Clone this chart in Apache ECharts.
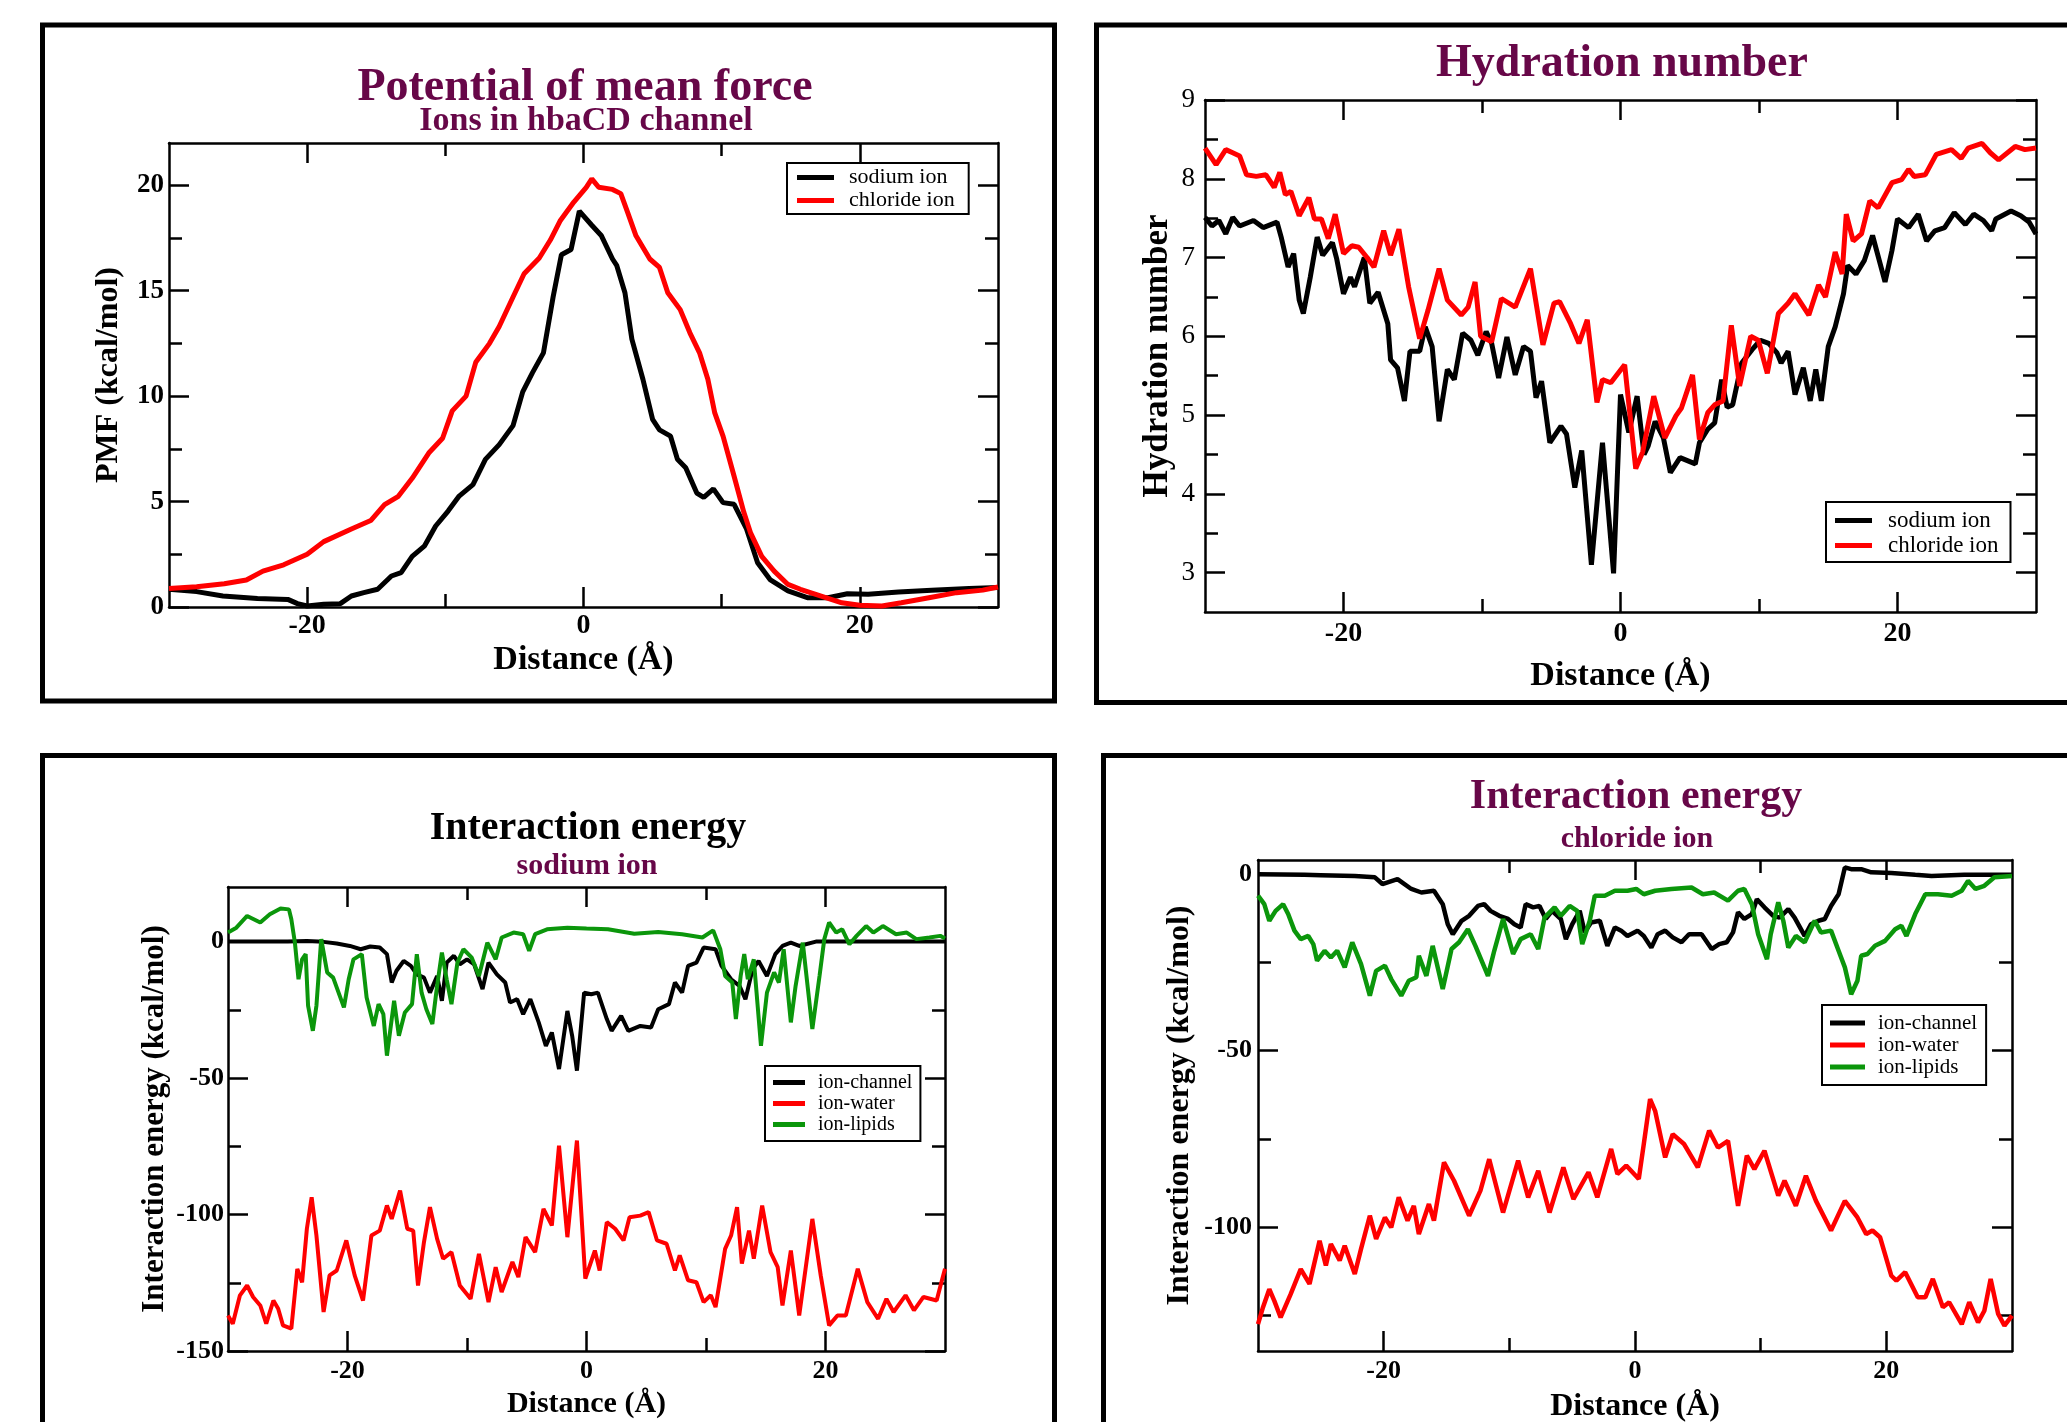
<!DOCTYPE html>
<html>
<head>
<meta charset="utf-8">
<title>PMF, hydration and interaction energy</title>
<script src="https://cdn.jsdelivr.net/npm/echarts@6/dist/echarts.min.js"></script>
<style>
  html, body { margin: 0; padding: 0; background: #fff; }
  #chart { width: 2067px; height: 1422px; }
</style>
</head>
<body>
<div id="chart"></div>
<script>
// ---- data: [distance (Å), value] ----
const pmfNa = [[-30,0.84],[-28,0.73],[-26.1,0.52],[-23.6,0.4],[-21.4,0.36],[-20.7,0.16],[-20,0.05],[-18.8,0.13],[-17.6,0.16],[-16.8,0.52],[-15.9,0.68],[-14.9,0.84],[-13.9,1.47],[-13.2,1.63],[-12.4,2.4],[-11.5,2.9],[-10.7,3.84],[-9.8,4.55],[-9,5.26],[-8,5.8],[-7.1,7],[-6.1,7.7],[-5.1,8.6],[-4.4,10.2],[-3.7,11.1],[-2.9,12.05],[-2.2,14.7],[-1.6,16.7],[-0.9,16.95],[-0.3,18.77],[0.6,18.1],[1.3,17.6],[2.1,16.5],[2.4,16.2],[3,14.9],[3.5,12.7],[4.3,10.8],[5,8.9],[5.5,8.4],[6.3,8.1],[6.8,7],[7.4,6.6],[8.2,5.4],[8.7,5.2],[9.4,5.6],[10.1,4.95],[10.9,4.87],[11.8,3.7],[12.6,2.1],[13.5,1.3],[14.8,0.76],[16.2,0.44],[17.7,0.44],[19.1,0.63],[20.6,0.6],[22.8,0.71],[25.2,0.79],[27.9,0.88],[30,0.92]];
const pmfCl = [[-30,0.88],[-28,0.96],[-26,1.1],[-24.4,1.28],[-23.2,1.7],[-21.7,2],[-20,2.5],[-18.8,3.1],[-16.8,3.7],[-15.4,4.1],[-14.4,4.85],[-13.4,5.25],[-12.4,6.1],[-11.2,7.3],[-10.2,8],[-9.5,9.3],[-8.5,10],[-7.8,11.6],[-6.8,12.5],[-6.1,13.3],[-5.1,14.7],[-4.3,15.8],[-3.2,16.55],[-2.4,17.4],[-1.7,18.3],[-0.7,19.2],[0.2,19.9],[0.6,20.3],[1.1,19.9],[2.1,19.8],[2.7,19.6],[3.2,18.7],[3.8,17.6],[4.8,16.5],[5.5,16.1],[6.1,14.9],[7,14.1],[7.7,13],[8.4,12.05],[9,10.8],[9.5,9.2],[10.1,8.1],[10.9,6.2],[11.6,4.5],[12.1,3.5],[12.9,2.4],[13.8,1.7],[14.8,1.07],[15.7,0.84],[17.2,0.52],[18.7,0.2],[20,0.08],[21.6,0.05],[23,0.2],[25,0.44],[27,0.68],[28.9,0.8],[30,0.95]];

const hydNa = [[-30,7.51],[-29.5,7.4],[-29,7.47],[-28.5,7.3],[-28,7.51],[-27.5,7.4],[-26.5,7.47],[-25.8,7.38],[-24.8,7.45],[-24.5,7.26],[-24,6.88],[-23.6,7.05],[-23.2,6.46],[-22.9,6.29],[-22.4,6.75],[-21.9,7.26],[-21.5,7.03],[-20.8,7.19],[-20.5,6.99],[-20,6.54],[-19.5,6.75],[-19.2,6.63],[-18.5,7],[-18.1,6.42],[-17.5,6.56],[-16.8,6.16],[-16.6,5.7],[-16.1,5.6],[-15.6,5.18],[-15.2,5.81],[-14.5,5.81],[-14.1,6.12],[-13.6,5.87],[-13.1,4.92],[-12.5,5.58],[-12,5.45],[-11.4,6.04],[-10.8,5.95],[-10.3,5.76],[-9.7,6.06],[-9.3,5.91],[-8.8,5.47],[-8.2,5.99],[-7.6,5.51],[-7,5.87],[-6.5,5.81],[-6.1,5.22],[-5.7,5.43],[-5.1,4.65],[-4.3,4.86],[-3.9,4.76],[-3.3,4.08],[-2.8,4.55],[-2.1,3.1],[-1.3,4.65],[-0.5,2.99],[0,5.26],[0.6,4.78],[1.2,5.24],[1.7,4.5],[2,4.61],[2.5,4.92],[3.1,4.71],[3.6,4.27],[4.3,4.46],[5.4,4.38],[5.7,4.65],[6.3,4.82],[6.8,4.9],[7.3,5.45],[7.7,5.1],[8.1,5.13],[8.75,5.66],[9.5,5.83],[10.1,5.95],[10.7,5.91],[11.3,5.79],[11.6,5.66],[12.1,5.81],[12.6,5.26],[13.2,5.6],[13.7,5.18],[14.1,5.58],[14.5,5.18],[15,5.87],[15.5,6.12],[16.1,6.54],[16.4,6.9],[17,6.79],[17.6,6.96],[18.2,7.28],[19.1,6.69],[19.6,7.09],[20,7.49],[20.8,7.38],[21.5,7.55],[22.1,7.21],[22.7,7.34],[23.4,7.38],[24.1,7.57],[24.9,7.42],[25.5,7.55],[26.2,7.47],[26.8,7.34],[27.1,7.49],[28.2,7.59],[28.9,7.53],[29.5,7.45],[30,7.3]];
const hydCl = [[-30,8.39],[-29.2,8.18],[-28.5,8.37],[-28,8.33],[-27.5,8.29],[-27,8.05],[-26.3,8.03],[-25.6,8.05],[-25,7.89],[-24.6,8.08],[-24.2,7.8],[-23.8,7.84],[-23.2,7.53],[-22.5,7.76],[-22.1,7.49],[-21.6,7.49],[-21.1,7.24],[-20.6,7.55],[-20,7.05],[-19.4,7.15],[-18.9,7.13],[-18.3,7],[-17.8,6.88],[-17.1,7.34],[-16.6,7.03],[-16,7.36],[-15.3,6.63],[-14.5,5.97],[-13.9,6.33],[-13.1,6.86],[-12.5,6.46],[-11.5,6.27],[-11,6.37],[-10.5,6.69],[-10.1,6],[-9.3,5.93],[-8.6,6.48],[-7.6,6.37],[-6.5,6.86],[-5.6,5.89],[-4.8,6.42],[-4.4,6.44],[-3.6,6.16],[-3,5.91],[-2.4,6.21],[-1.7,5.16],[-1.3,5.45],[-0.7,5.41],[0.3,5.64],[1.1,4.32],[1.6,4.53],[2.4,5.24],[3.2,4.71],[4,4.99],[4.4,5.09],[5.2,5.51],[5.7,4.69],[6.3,5.03],[6.8,5.13],[7.4,5.18],[8,6.14],[8.6,5.37],[9.4,6],[9.95,5.95],[10.6,5.53],[11.4,6.29],[12.1,6.42],[12.6,6.54],[13.6,6.27],[14.3,6.65],[14.8,6.5],[15.5,7.07],[16,6.79],[16.3,7.55],[16.8,7.21],[17.4,7.3],[18,7.72],[18.6,7.63],[19.6,7.95],[20.3,7.99],[20.8,8.12],[21.2,8.03],[22,8.05],[22.8,8.31],[23.9,8.37],[24.6,8.26],[25.1,8.39],[26.1,8.45],[26.7,8.33],[27.3,8.24],[28.5,8.41],[29.2,8.37],[30,8.39]];

const naChannel = [[-30,0],[-25,0],[-23.4,0.2],[-22,-0.1],[-20.9,-0.7],[-19.8,-1.6],[-18.9,-2.8],[-18.1,-1.8],[-17.3,-2.2],[-16.7,-4.6],[-16.3,-15],[-15.9,-10.7],[-15.3,-7.1],[-14.7,-8.9],[-14.2,-12],[-13.6,-13.2],[-13.1,-18.7],[-12.5,-12.6],[-12.1,-21.7],[-11.7,-7.7],[-11.1,-5.2],[-10.6,-8.3],[-10,-6.5],[-9.4,-8.3],[-8.7,-17.4],[-8.2,-7.7],[-7.5,-12],[-6.8,-15],[-6.4,-22.3],[-5.8,-21.1],[-5.3,-26.6],[-4.7,-21.1],[-4,-29.6],[-3.4,-38.2],[-2.9,-33.3],[-2.3,-46.7],[-1.6,-25.4],[-1.2,-34.5],[-0.8,-47.3],[-0.2,-18.7],[0.4,-19.3],[0.95,-18.7],[1.7,-28.4],[2.1,-32.7],[2.9,-27.2],[3.5,-32.7],[4.5,-30.9],[5.4,-31.5],[6,-24.8],[6.9,-22.9],[7.4,-15],[8,-18.7],[8.5,-8.9],[9.2,-7.7],[9.8,-2.2],[10.8,-2.8],[11.3,-8.9],[12.1,-13.8],[12.8,-16.2],[13.3,-21.1],[13.9,-10.1],[14.4,-7.1],[15.1,-12.6],[15.8,-4.6],[16.4,-1.6],[17.1,-0.4],[17.8,-1.6],[19.2,0],[30,0]];
const naWater = [[-30,-137],[-29.6,-140],[-29,-129.6],[-28.4,-126],[-27.9,-130.2],[-27.3,-133.3],[-26.8,-140],[-26.2,-131.5],[-25.8,-134.5],[-25.4,-140.6],[-24.7,-141.8],[-24.2,-119.9],[-23.8,-124.8],[-23.4,-105.2],[-23,-93.7],[-22.6,-107.7],[-22,-135.7],[-21.5,-122.3],[-20.9,-120.5],[-20.1,-109.5],[-19.4,-122.3],[-18.7,-131.5],[-18,-107.7],[-17.3,-105.9],[-16.7,-96.7],[-16.3,-101.6],[-15.6,-91.2],[-15,-105.2],[-14.5,-105.9],[-14.1,-126],[-13.6,-110.1],[-13.1,-97.3],[-12.5,-108.9],[-12,-116.2],[-11.3,-113.8],[-10.6,-126],[-9.7,-130.9],[-9,-114.4],[-8.2,-132.1],[-7.6,-119.3],[-7.1,-128.4],[-6.2,-117.4],[-5.7,-122.9],[-5.1,-108.3],[-4.3,-113.8],[-3.6,-97.9],[-2.9,-104],[-2.3,-74.8],[-1.6,-108.3],[-0.8,-72.9],[-0.1,-123.5],[0.7,-113.2],[1.1,-120.5],[1.7,-102.8],[2.4,-105.2],[3.1,-109.5],[3.6,-101],[4.5,-100.4],[5.2,-99.1],[5.9,-109.5],[6.7,-110.7],[7.4,-120.5],[7.8,-115],[8.5,-124.1],[9.2,-124.8],[9.8,-132.1],[10.4,-129.6],[10.8,-133.9],[11.6,-112.6],[12.1,-107.7],[12.6,-97.3],[13,-118],[13.6,-105.9],[14,-116.2],[14.7,-96.7],[15.4,-113.8],[16,-119.3],[16.4,-133.3],[17.1,-113.2],[17.8,-137],[18.9,-101.6],[19.6,-122.3],[20.3,-140.6],[21,-137],[21.7,-137],[22.7,-119.9],[23.5,-132.1],[24.4,-138.2],[25.1,-130.9],[25.7,-135.7],[26.7,-129.6],[27.4,-135.1],[28.2,-130.2],[29.3,-131.5],[29.7,-124.8],[30,-119.9]];
const naLipids = [[-30,3.3],[-29.3,5.1],[-28.4,9.4],[-27.3,7],[-26.5,10],[-25.6,12.1],[-24.9,11.8],[-24.7,8.2],[-24.4,-0.4],[-24.1,-13.8],[-23.8,-6.5],[-23.5,-4.6],[-23.3,-23.5],[-22.9,-32.7],[-22.6,-23.5],[-22.2,0.9],[-21.7,-11.3],[-21.2,-13.2],[-20.3,-24.1],[-19.9,-13.8],[-19.5,-6.5],[-18.8,-4.6],[-18.4,-20.5],[-17.8,-30.9],[-17.4,-22.9],[-17,-26.6],[-16.7,-41.8],[-16.1,-21.7],[-15.7,-34.5],[-15.2,-26],[-14.6,-22.9],[-14.2,-4.6],[-13.8,-18.7],[-13.4,-24.8],[-12.9,-30.2],[-12.5,-16.2],[-12.1,-4],[-11.7,-13.8],[-11.3,-22.9],[-10.8,-7.7],[-10.3,-2.8],[-9.6,-5.9],[-9,-12.6],[-8.3,-0.4],[-7.6,-6.5],[-7.1,1.5],[-6.1,3.3],[-5.3,2.7],[-4.8,-3.4],[-4.3,2.7],[-3.3,4.5],[-1.6,5.1],[0,4.8],[1.8,4.5],[4,2.9],[6,3.5],[8,2.7],[9.7,1.5],[10.6,4.1],[11.2,-2.8],[11.6,-12.6],[12.2,-15],[12.5,-28.4],[12.9,-12.6],[13.2,-4.6],[13.5,-13.8],[14,-6.5],[14.6,-38.2],[15.1,-18.7],[15.7,-11.3],[16.1,-15],[16.5,-2.8],[17.1,-29.6],[17.5,-16.2],[18.1,-0.4],[18.9,-32],[19.5,-12.6],[19.9,0.9],[20.3,7],[20.9,3.3],[21.4,4.5],[22,-1],[22.6,2.1],[23.4,5.7],[24,3.3],[24.8,5.7],[25.9,2.7],[26.8,3.3],[27.6,0.9],[28.7,1.5],[29.6,2.1],[30,1.1]];

const clChannel = [[-30,0],[-26.3,-0.2],[-25,-0.3],[-22.3,-0.5],[-20.7,-0.9],[-20.1,-2.8],[-18.9,-1.4],[-17.8,-4.2],[-17,-5.2],[-16,-4.7],[-15.3,-8.5],[-14.9,-14.2],[-14.5,-17],[-13.8,-13.2],[-13.2,-11.8],[-12.5,-9],[-12,-8.5],[-11.5,-10.4],[-10.8,-11.8],[-10.1,-12.7],[-9.6,-14.2],[-9.1,-15.1],[-8.7,-8.5],[-8.1,-9.4],[-7.6,-9],[-7.1,-12.7],[-6.6,-10.4],[-5.9,-12.7],[-5.5,-18.4],[-5,-14.2],[-4.4,-10.4],[-4,-16.5],[-3.5,-13.7],[-2.8,-13.2],[-2.2,-20.3],[-1.6,-15.1],[-1.1,-16],[-0.6,-17.5],[0.2,-16],[0.7,-17.5],[1.3,-20.8],[1.8,-17],[2.4,-16],[3,-17.9],[3.7,-19.3],[4.3,-17],[5.3,-17],[6.1,-21.2],[6.7,-19.8],[7.3,-19.3],[7.8,-16.5],[8.2,-10.8],[8.7,-12.7],[9.3,-11.3],[9.7,-7.1],[10.3,-9.4],[11,-11.8],[11.5,-12.3],[12.2,-9.9],[12.7,-12.3],[13.5,-17.5],[14,-14.2],[14.6,-13.2],[15.1,-12.7],[15.6,-9],[16.2,-5.7],[16.7,1.9],[17.2,1.4],[18,1.4],[18.8,0.5],[20.4,0.3],[22.3,-0.2],[23.6,-0.5],[26.2,-0.2],[30,-0.2]];
const clWater = [[-30,-127.4],[-29.6,-122.6],[-29.1,-117.5],[-28.7,-120.8],[-28.2,-125.5],[-27.4,-118.9],[-26.6,-111.8],[-25.9,-116],[-25.1,-103.8],[-24.6,-110.8],[-24.2,-104.7],[-23.5,-109.4],[-23.1,-105.2],[-22.3,-113.2],[-21.8,-106.1],[-21.1,-96.7],[-20.6,-103.3],[-19.9,-97.2],[-19.4,-100],[-18.8,-91.5],[-18.1,-98.1],[-17.6,-93.9],[-17.2,-101.9],[-16.4,-93.4],[-16,-98.1],[-15.2,-81.6],[-14.4,-86.8],[-13.2,-96.7],[-12.3,-89.6],[-11.6,-80.7],[-10.5,-95.8],[-9.3,-81.1],[-8.5,-91.5],[-7.7,-84],[-6.8,-95.8],[-5.7,-83],[-4.9,-92],[-3.7,-84.4],[-3,-91.5],[-1.9,-77.8],[-1.4,-84.9],[-0.7,-82.5],[0.3,-86.3],[0.7,-76.4],[1.2,-63.7],[1.6,-67],[2.4,-80.2],[3,-73.6],[3.9,-76.4],[5,-83],[5.9,-72.6],[6.6,-77.4],[7.4,-75.5],[8.2,-93.9],[8.9,-79.7],[9.5,-83.5],[10.3,-78.3],[11.4,-91],[11.9,-86.8],[12.8,-93.9],[13.6,-85.4],[14.4,-92.5],[15.6,-100.9],[16.7,-92.5],[17.7,-97.2],[18.4,-101.9],[18.9,-100.9],[19.5,-102.8],[20.4,-113.7],[20.8,-115.1],[21.5,-112.7],[22.5,-119.8],[23.1,-119.8],[23.7,-114.6],[24.5,-122.6],[25,-121.2],[26,-127.4],[26.6,-121.2],[27.3,-126.9],[27.8,-123.6],[28.3,-114.6],[28.9,-124.5],[29.4,-127.8],[30,-125]];
const clLipids = [[-30,-6.1],[-29.5,-8.5],[-29.1,-13.2],[-28.6,-10.4],[-28,-8.5],[-27.6,-11.3],[-27.1,-16],[-26.6,-18.4],[-26,-17.5],[-25.6,-19.8],[-25.3,-24.5],[-24.7,-21.7],[-24.2,-23.6],[-23.7,-21.7],[-23.1,-26.4],[-22.5,-19.3],[-21.8,-25.5],[-21.1,-34.4],[-20.6,-27.4],[-19.9,-25.9],[-19.4,-29.7],[-18.6,-34.4],[-18,-30.2],[-17.4,-29.2],[-17.2,-23.1],[-16.6,-28.8],[-16.1,-20.3],[-15.3,-32.5],[-14.6,-21.2],[-14,-19.3],[-13.3,-15.6],[-12.7,-20.3],[-11.7,-28.8],[-11.2,-21.7],[-10.5,-12.7],[-9.7,-22.6],[-9.1,-18.4],[-8.3,-17],[-7.7,-21.2],[-7.2,-12.3],[-6.4,-9.4],[-5.9,-11.8],[-5.2,-9],[-4.6,-10.4],[-4.2,-19.8],[-3.6,-13.2],[-3.2,-6.1],[-2.4,-6.1],[-1.6,-4.7],[-0.6,-4.7],[0.1,-4.2],[0.7,-5.7],[1.6,-4.7],[2.9,-4.2],[4.5,-3.8],[5.4,-5.7],[6.3,-5.2],[7.4,-7.5],[8.2,-4.7],[8.7,-4.2],[9.3,-8.5],[9.8,-17],[10.5,-24.1],[10.8,-17],[11.4,-8],[11.8,-13.2],[12.2,-20.8],[12.8,-17.5],[13.5,-19.3],[14.3,-13.2],[14.8,-16.5],[15.6,-16],[16.2,-21.7],[16.7,-26.4],[17.2,-34],[17.7,-30.2],[18,-23.1],[18.5,-22.6],[19.1,-20.3],[19.9,-18.9],[20.7,-15.6],[21.2,-14.6],[21.6,-17.5],[22.3,-11.3],[23.1,-5.7],[24.1,-5.7],[25.2,-6.1],[26,-4.7],[26.5,-1.9],[27.1,-4.2],[27.8,-3.3],[28.6,-0.9],[30,-0.5]];

// tick values
const distMajor = [-20, 0, 20];
const distMinor = [-10, 10];
const pmfMajor = [0, 5, 10, 15, 20];
const pmfMinor = [2.5, 7.5, 12.5, 17.5];
const hydMajor = [3, 4, 5, 6, 7, 8, 9];
const hydMinor = [3.5, 4.5, 5.5, 6.5, 7.5, 8.5];
const naEnMajor = [-150, -100, -50, 0];
const clEnMajor = [-100, -50, 0];
const enMinor = [-125, -75, -25];

const serif = "'Liberation Serif', 'DejaVu Serif', serif";
const maroon = '#670748';
const green = '#0b960b';

let xAxes = [];
let yAxes = [];

// one value axis with labels + long ticks, and three more for minor ticks / mirrored sides
function addFrame(list, dim, gridIndex, cfg) {
  const sides = dim === 'x' ? ['bottom', 'top'] : ['left', 'right'];
  const start = list.length;
  sides.forEach((side, s) => {
    [[cfg.majors, 20], [cfg.minors, 13]].forEach(([vals, len], m) => {
      const main = s === 0 && m === 0;
      list.push({
        type: 'value',
        gridIndex: gridIndex,
        position: side,
        min: cfg.min,
        max: cfg.max,
        silent: true,
        axisLine: { show: m === 0, onZero: false, lineStyle: { color: '#000', width: 2.5 } },
        axisTick: { show: true, inside: true, length: len, customValues: vals,
                    lineStyle: { color: '#000', width: 2.5 } },
        axisLabel: main
          ? Object.assign({ customValues: vals, color: '#000', fontFamily: serif, fontWeight: 'bold' }, cfg.label)
          : { show: false },
        splitLine: { show: false },
        name: main ? cfg.name : '',
        nameLocation: 'middle',
        nameGap: cfg.nameGap,
        nameRotate: dim === 'y' ? 90 : 0,
        nameMoveOverlap: false,
        nameTextStyle: { fontFamily: serif, fontWeight: 'bold', fontSize: cfg.nameSize, color: '#000' }
      });
    });
  });
  return start;
}

function distAxis(g, fontSize, margin, nameSize, nameGap) {
  return addFrame(xAxes, 'x', g, {
    min: -30, max: 30, majors: distMajor, minors: distMinor,
    label: { fontSize: fontSize, margin: margin },
    name: 'Distance (Å)', nameSize: nameSize, nameGap: nameGap
  });
}

const x1 = distAxis(0, 28, 5, 34, 36);
const y1 = addFrame(yAxes, 'y', 0, {
  min: 0, max: 22, majors: pmfMajor, minors: pmfMinor,
  label: { fontSize: 27, margin: 5 },
  name: 'PMF (kcal/mol)', nameSize: 32, nameGap: 44
});
const x2 = distAxis(1, 28, 8, 34, 47);
const y2 = addFrame(yAxes, 'y', 1, {
  min: 2.5, max: 9, majors: hydMajor, minors: hydMinor,
  label: { fontSize: 27, margin: 10, fontWeight: 'normal' },
  name: 'Hydration number', nameSize: 35, nameGap: 30
});
const x3 = distAxis(2, 26, 7, 30, 38);
const y3 = addFrame(yAxes, 'y', 2, {
  min: -150, max: 20, majors: naEnMajor, minors: enMinor,
  label: { fontSize: 26, margin: 4 },
  name: 'Interaction energy (kcal/mol)', nameSize: 31, nameGap: 58
});
const x4 = distAxis(3, 26, 7, 32, 40);
const y4 = addFrame(yAxes, 'y', 3, {
  min: -135, max: 4, majors: clEnMajor, minors: enMinor,
  label: { fontSize: 26, margin: 6 },
  name: 'Interaction energy (kcal/mol)', nameSize: 32, nameGap: 62
});

function line(name, data, color, xi, yi, width) {
  return {
    type: 'line', name: name, data: data,
    xAxisIndex: xi, yAxisIndex: yi,
    showSymbol: false, symbol: 'none',
    color: color,
    lineStyle: { color: color, width: width },
    silent: true
  };
}

// legend swatch: a flat bar like the xmgrace line sample
function legend(names, left, top, cfg) {
  return {
    data: names, orient: 'vertical', left: left, top: top,
    padding: cfg.padding,
    icon: 'rect',
    itemWidth: cfg.itemWidth, itemHeight: 5, itemGap: 0,
    itemStyle: { borderWidth: 0 },
    borderColor: '#000', borderWidth: 2, backgroundColor: '#fff',
    selectedMode: false,
    textStyle: { fontFamily: serif, fontSize: cfg.fontSize, lineHeight: cfg.lineHeight,
                 color: '#000', padding: [0, 0, 0, cfg.textPad] }
  };
}

function title(text, cx, top, size, color) {
  return {
    text: text, left: cx, top: top, textAlign: 'center', padding: 0,
    textStyle: { fontFamily: serif, fontWeight: 'bold', fontSize: size, color: color }
  };
}

function box(x, y, w, h) {
  return { type: 'rect', silent: true, z: 0,
           shape: { x: x, y: y, width: w, height: h },
           style: { fill: 'none', stroke: '#000', lineWidth: 5 } };
}

let option = {
  backgroundColor: '#fff',
  animation: false,
  textStyle: { fontFamily: serif },
  title: [
    title('Potential of mean force', 585, 65, 46, maroon),
    title('Ions in hbaCD channel', 586, 104, 34, maroon),
    title('Hydration number', 1622, 41, 46, maroon),
    title('Interaction energy', 588, 809, 40, '#000'),
    title('sodium ion', 587, 851, 30, maroon),
    title('Interaction energy', 1636, 776, 42, maroon),
    title('chloride ion', 1637, 824, 30, maroon)
  ],
  grid: [
    { left: 169, top: 143, width: 829, height: 464, outerBoundsMode: 'none' },
    { left: 1205, top: 100, width: 831, height: 512, outerBoundsMode: 'none' },
    { left: 228, top: 887, width: 717, height: 464, outerBoundsMode: 'none' },
    { left: 1258, top: 860, width: 754, height: 491, outerBoundsMode: 'none' }
  ],
  xAxis: xAxes,
  yAxis: yAxes,
  legend: [
    legend(['sodium ion', 'chloride ion'], 787, 163,
           { padding: [3, 14, 2, 10], itemWidth: 37, fontSize: 22, lineHeight: 23, textPad: 10 }),
    legend(['sodium ion', 'chloride ion'], 1826, 502,
           { padding: [6, 12, 4, 9], itemWidth: 37, fontSize: 23, lineHeight: 25, textPad: 11 }),
    legend(['ion-channel', 'ion-water', 'ion-lipids'], 765, 1066,
           { padding: [6, 8, 6, 8], itemWidth: 32, fontSize: 20, lineHeight: 21, textPad: 8 }),
    legend(['ion-channel', 'ion-water', 'ion-lipids'], 1822, 1005,
           { padding: [7, 9, 7, 8], itemWidth: 35, fontSize: 21, lineHeight: 22, textPad: 8 })
  ],
  series: [
    line('sodium ion', pmfNa, '#000', x1, y1, 5),
    line('chloride ion', pmfCl, '#ff0000', x1, y1, 5),
    line('sodium ion', hydNa, '#000', x2, y2, 5),
    line('chloride ion', hydCl, '#ff0000', x2, y2, 5),
    line('ion-channel', naChannel, '#000', x3, y3, 4),
    line('ion-water', naWater, '#ff0000', x3, y3, 4),
    line('ion-lipids', naLipids, green, x3, y3, 4),
    line('ion-channel', clChannel, '#000', x4, y4, 4.5),
    line('ion-water', clWater, '#ff0000', x4, y4, 4.5),
    line('ion-lipids', clLipids, green, x4, y4, 4.5)
  ],
  graphic: [
    box(42.5, 25, 1012, 676),
    box(1096.5, 25, 1000, 677.5),
    box(42.5, 755.5, 1012, 700),
    box(1103.5, 755.5, 1000, 700)
  ]
};

let myChart = echarts.init(document.getElementById('chart'), null, { renderer: 'canvas' });
myChart.setOption(option);
</script>
</body>
</html>
